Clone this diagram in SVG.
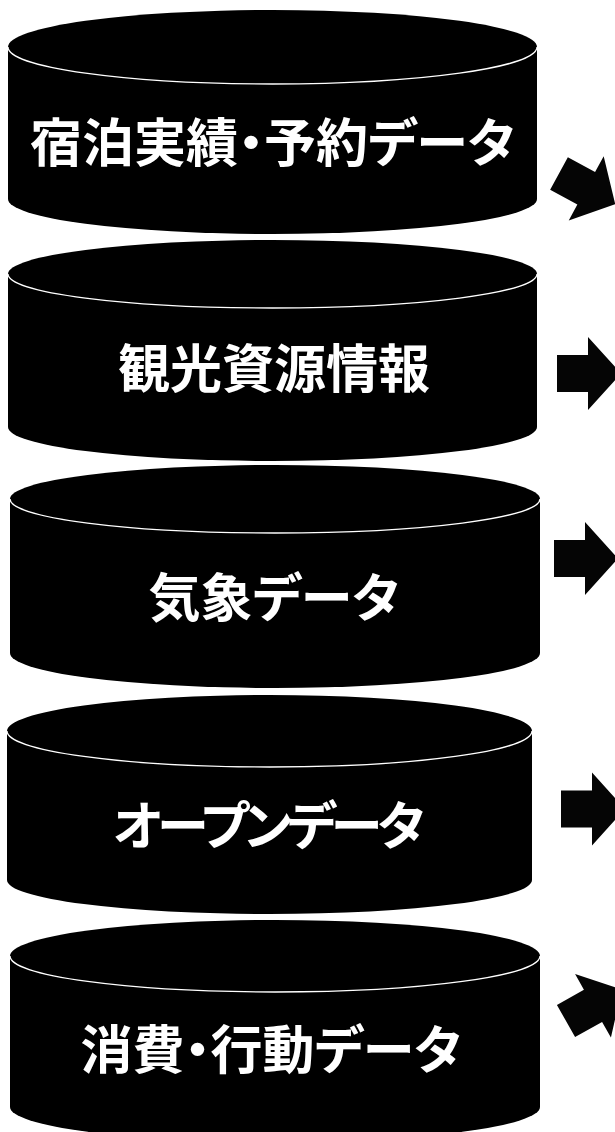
<svg xmlns="http://www.w3.org/2000/svg" width="615" height="1132" viewBox="0 0 615 1132">
<style>
.body{fill:#000;stroke:none}
.rim{fill:none;stroke:#fff;stroke-width:1.3}
.lbl{fill:#fff;font-family:"Noto Sans CJK JP","Noto Sans CJK SC",sans-serif;font-weight:bold;font-size:52px;text-anchor:middle;font-feature-settings:"palt"}
.arrow{fill:#050505}
</style>
<defs>
<polygon id="arr" points="0,-18.5 31,-18.5 31,-36.5 64,0 31,36.5 31,18.5 0,18.5"/>
</defs>
<rect width="615" height="1132" fill="#fff"/>
<g id="node1">
<path class="body" d="M8,47 L8,199 A264.5,35 0 0 0 537,199 L537,47 A264.5,37 0 0 0 8,47 Z"/>
<path class="rim" d="M8,47 A264.5,37 0 0 0 537,47"/>
<text class="lbl" x="272.5" y="162">宿泊実績・予約データ</text>
</g>
<g id="node2">
<path class="body" d="M8,274 L8,427 A264.5,34 0 0 0 537,427 L537,274 A264.5,34 0 0 0 8,274 Z"/>
<path class="rim" d="M8,274 A264.5,34 0 0 0 537,274"/>
<text class="lbl" x="274" y="388">観光資源情報</text>
</g>
<g id="node3">
<path class="body" d="M10,499 L10,653 A265,35 0 0 0 540,653 L540,499 A265,34 0 0 0 10,499 Z"/>
<path class="rim" d="M10,499 A265,34 0 0 0 540,499"/>
<text class="lbl" x="274" y="617">気象データ</text>
</g>
<g id="node4">
<path class="body" d="M7,731 L7,880 A262.5,34 0 0 0 532,880 L532,731 A262.5,36 0 0 0 7,731 Z"/>
<path class="rim" d="M7,731 A262.5,36 0 0 0 532,731"/>
<text class="lbl" x="269" y="845" textLength="312" lengthAdjust="spacing">オープンデータ</text>
</g>
<g id="node5">
<path class="body" d="M10,956 L10,1107 A265,35 0 0 0 540,1107 L540,956 A265,36 0 0 0 10,956 Z"/>
<path class="rim" d="M10,956 A265,36 0 0 0 540,956"/>
<text class="lbl" x="271" y="1069">消費・行動データ</text>
</g>
<g id="connectors">
<use href="#arr" class="arrow" transform="translate(559,173.5) rotate(28.6)"/>
<use href="#arr" class="arrow" transform="translate(557,373.5)"/>
<use href="#arr" class="arrow" transform="translate(554,558.5)"/>
<use href="#arr" class="arrow" transform="translate(561,809)"/>
<use href="#arr" class="arrow" transform="translate(566,1021) rotate(-29.4)"/>
</g>
</svg>
